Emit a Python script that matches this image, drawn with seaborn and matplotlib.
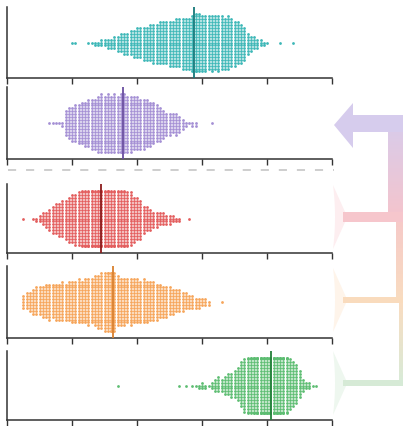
import numpy as np
import matplotlib
matplotlib.use("Agg")
import matplotlib.pyplot as plt
import seaborn as sns
from matplotlib.patches import Polygon, Rectangle
from matplotlib.lines import Line2D
from matplotlib.colors import to_rgb

# ---------------- data (count of points per value) ----
teal_start = 20
teal_counts = [1, 1, 0, 0, 0, 1, 1, 2, 2, 3, 3, 4, 4, 5, 6, 7, 8, 8, 9, 10,
               11, 11, 12, 12, 13, 14, 14, 15, 15, 15, 16, 16, 17, 17, 18, 18, 18, 20, 22, 21,
               20, 20, 19, 20, 19, 20, 19, 18, 19, 17, 16, 15, 14, 12, 8, 6, 5, 4, 3, 2,
               1, 0, 0, 0, 1, 0, 0, 0, 1]

purple_start = 13
purple_counts = [1, 1, 1, 1, 2, 9, 11, 12, 13, 14, 15, 16, 17, 18, 18, 20, 21, 20, 21, 20,
                 21, 20, 22, 21, 20, 20, 19, 19, 18, 18, 17, 16, 15, 13, 12, 10, 8, 8, 7, 8,
                 6, 4, 2, 1, 2, 2, 0, 0, 0, 0, 1]

red_start = 5
red_counts = [1, 0, 0, 1, 2, 3, 5, 6, 8, 10, 11, 12, 13, 14, 16, 17, 18, 19, 21, 22,
              22, 23, 22, 24, 23, 22, 23, 22, 22, 21, 21, 22, 20, 19, 16, 15, 14, 10, 9, 8,
              6, 6, 5, 5, 4, 4, 3, 2, 2, 0, 0, 1]

orange_start = 5
orange_counts = [5, 6, 7, 9, 10, 10, 11, 12, 13, 12, 13, 13, 14, 13, 14, 15, 15, 16, 15, 16,
                 17, 16, 18, 19, 20, 21, 22, 23, 21, 18, 17, 17, 16, 17, 16, 16, 15, 16, 15, 14,
                 14, 13, 12, 11, 11, 10, 9, 8, 8, 7, 6, 5, 5, 4, 4, 3, 3, 2, 0, 0,
                 0, 1]

green_start = 34
green_counts = [1, 0, 0, 0, 0, 0, 0, 0, 0, 0, 0, 0, 0, 0, 0, 0, 0, 0, 0, 1,
                0, 1, 0, 1, 1, 2, 3, 2, 1, 3, 5, 6, 5, 7, 8, 9, 10, 12, 16, 19,
                21, 22, 24, 25, 25, 26, 26, 26, 25, 26, 25, 24, 22, 18, 16, 14, 10, 5, 3, 3,
                1, 1]

medians = [57.5, 35.7, 28.9, 32.6, 81.2]
x_ticks = [0, 20, 40, 60, 80, 100]

point_colors = ["#3db7b7", "#a48fd4", "#e35d5d", "#f6a55a", "#5dbd72"]
line_colors = ["#16787a", "#6a4fa0", "#8c1c1c", "#d9802e", "#24803a"]


def expand(start, counts):
    vals = np.arange(start, start + len(counts), dtype=float)
    return np.repeat(vals, counts)


series = [
    expand(teal_start, teal_counts),
    expand(purple_start, purple_counts),
    expand(red_start, red_counts),
    expand(orange_start, orange_counts),
    expand(green_start, green_counts),
]

# ---------------- figure ----------------
sns.set_theme(style="white")
W, H = 404, 426
fig = plt.figure(figsize=(W / 100, H / 100), dpi=100)
fig.patch.set_facecolor("white")


def px_axes(left, top, w, h, **kw):
    return fig.add_axes([left / W, 1 - (top + h) / H, w / W, h / H], **kw)


# decoration layer (behind panels)
deco = px_axes(0, 0, W, H)
deco.set_zorder(-5)
deco.axis("off")


def grad_rect(x0, x1, y0, y1, c_top, c_bot):
    n = 64
    a = np.array(to_rgb(c_top))
    b = np.array(to_rgb(c_bot))
    t = np.linspace(0, 1, n)[:, None]
    img = (a * (1 - t) + b * t)[:, None, :]
    deco.imshow(img, extent=(x0, x1, y1, y0), aspect="auto",
                interpolation="bilinear", zorder=1)


# faint flares at the right end of the lower panels
for yc, col in [(217, "#fdeef0"), (300, "#fef4ea"), (383, "#eef7ef")]:
    ys = np.linspace(-32, 32, 33)
    xs_left = 333 + 6 * (1 - (ys / 32) ** 2)
    pts = [(346, yc - 3)] + [(x, yc + y) for x, y in zip(xs_left, ys)] + [(346, yc + 3)]
    pts = [(346, yc - 3), (333, yc - 32)] + [(333 + 2 * (1 - (y / 32) ** 2), yc + y) for y in ys] + [(333, yc + 32), (346, yc + 3)]
    deco.add_patch(Polygon(pts, closed=True, facecolor=col, edgecolor="none", zorder=1))

# purple arrow
deco.add_patch(Polygon([(334, 125), (353, 103), (353, 115), (403, 115),
                        (403, 132), (353, 132), (353, 148)],
                       closed=True, facecolor="#d6cced", edgecolor="none", zorder=2))
grad_rect(388, 403, 115, 222, "#d6cced", "#f6c4cb")
# red branch
deco.add_patch(Rectangle((343, 212), 60, 10, facecolor="#f6c6cc", edgecolor="none", zorder=2))
grad_rect(396, 403, 222, 300, "#f6cac8", "#f9dcc0")
# orange branch
deco.add_patch(Rectangle((343, 297), 60, 6, facecolor="#f9dbbd", edgecolor="none", zorder=2))
grad_rect(399, 403, 303, 383, "#f9dcc0", "#d8ebd8")
# green branch
deco.add_patch(Rectangle((343, 380), 60, 6, facecolor="#d6ead6", edgecolor="none", zorder=2))

deco.set_xlim(0, W)
deco.set_ylim(H, 0)

# dashed separator
fig.add_artist(Line2D([8 / W, 334 / W], [1 - 170 / H, 1 - 170 / H],
                      transform=fig.transFigure, color="#cacaca", lw=1.3,
                      linestyle=(0, (4.5, 5.5))))

panel_px = [(7, 71), (87, 72), (184, 69), (266, 72), (351, 69)]

for vals, (top, h), pc, lc, med in zip(series, panel_px, point_colors,
                                       line_colors, medians):
    ax = px_axes(7, top, 325, h)
    ax.patch.set_alpha(0)
    sns.swarmplot(x=vals, ax=ax, color=pc, size=2.0, linewidth=0,
                  warn_thresh=1.0)
    ax.axvline(med, color=lc, lw=1.3, zorder=5)
    ax.set_xlim(0, 100)
    ax.set_xticks(x_ticks)
    ax.set_xticklabels([])
    ax.set_yticks([])
    ax.set_xlabel("")
    ax.set_ylabel("")
    for s in ["top", "right"]:
        ax.spines[s].set_visible(False)
    for s in ["left", "bottom"]:
        ax.spines[s].set_color("#333333")
        ax.spines[s].set_linewidth(1.1)
    ax.tick_params(axis="x", direction="out", length=4, width=1.0,
                   color="#333333", bottom=True)

fig.savefig("out.png", dpi=100)
